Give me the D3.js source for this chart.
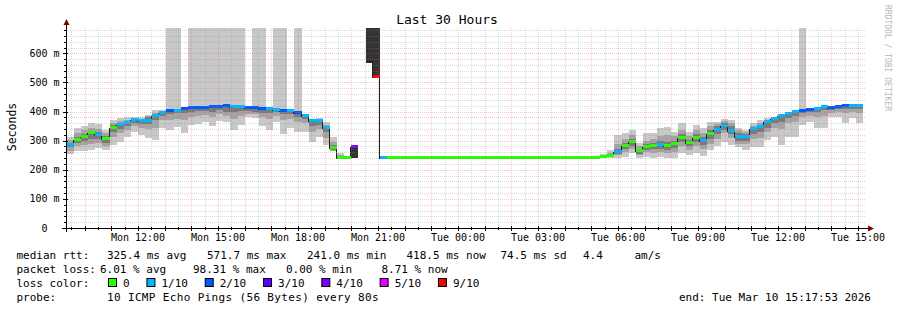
<!DOCTYPE html>
<html>
<head>
<meta charset="utf-8">
<script src="https://cdn.jsdelivr.net/npm/d3@7"></script>
<style>
  body { margin: 0; background: #fff; }
  svg { display: block; }
  text { font-family: "DejaVu Sans Mono", monospace; white-space: pre; fill: #000; }
</style>
</head>
<body>
<svg id="chart" width="897" height="310"></svg>
<script>
// graph window (rrd steps of 960 s)
var startTime = new Date(Date.UTC(2026, 2, 9, 9, 17, 53));
var endTime = new Date(Date.UTC(2026, 2, 10, 15, 17, 53));
var firstStep = new Date(Date.UTC(2026, 2, 9, 9, 20, 0));
var stepSec = 960;

// median rtt per step, in ms
var median = [
  285.6, 302.7, 313, 325.7, 320, 305, 345, 354, 360, 371,
  368, 368, 386, 396, 402, 403, 409, 411, 413.5, 413.5,
  416, 417, 418, 415, 415, 413.5, 411, 409, 408, 407,
  402, 402, 396, 386, 369, 369, 345, 275, 242, 242,
  278, null, 573, 518, 242, 242, 242, 242, 242, 242,
  242, 242, 242, 242, 242, 242, 242, 242, 242, 242,
  242, 242, 242, 242, 242, 242, 242, 242, 242, 242,
  242, 242, 242, 242, 242, 243, 248, 261.6, 283, 296,
  263, 278, 282, 285.6, 280, 289, 308.5, 291, 310.6, 298,
  322, 338, 350, 334.6, 313, 313, 339, 348, 363, 375,
  384, 392, 399, 403, 405.6, 410, 415, 413.6, 417, 419,
  419, 419
];

// lost pings per step (out of 10)
var loss = [
  1, 0, 0, 0, 1, 0, 0, 1, 1, 1,
  1, 1, 1, 1, 2, 1, 2, 2, 2, 2,
  2, 2, 2, 1, 1, 2, 2, 2, 1, 1,
  2, 1, 2, 1, 1, 1, 1, 0, 0, 0,
  4, null, 10, 9, 1, 0, 0, 0, 0, 0,
  0, 0, 0, 0, 0, 0, 0, 0, 0, 0,
  0, 0, 0, 0, 0, 0, 0, 0, 0, 0,
  0, 0, 0, 0, 0, 0, 0, 1, 0, 0,
  0, 0, 0, 1, 0, 0, 0, 0, 0, 1,
  0, 1, 1, 1, 1, 1, 1, 1, 1, 1,
  1, 1, 1, 2, 2, 1, 1, 2, 2, 2,
  1, 1
];

// smoke: outer spread (lightest)
var minV = [
  254, 263, 263, 268, 274, 268, 286, 297, 314, 331,
  320, 309, 302, 343, 337, 348, 328, 354, 356, 365,
  352, 368, 363, 337, 354, 382, 379, 352, 337, 365,
  324, 343, 329, 331, 295, 314, 286, 263, 242, 242,
  242, null, 566, 514, null, null, null, null, null, null,
  null, null, null, null, null, null, null, null, null, null,
  null, null, null, null, null, null, null, null, null, null,
  null, null, null, null, null, 242, 242, 240, 245, 257,
  240, 245, 240, 245, 240, 240, 257, 251, 257, 249,
  268, 280, 297, 286, 279, 268, 279, 279, 302, 314,
  286, 314, 314, 354, 365, 343, 343, 383, 380, 360,
  377, 360
];
var maxV = [
  311, 343, 352, 360, 356, 337, 371, 377, 383, 383,
  380, 388, 405, 405, 700, 700, 412, 700, 700, 700,
  700, 700, 700, 700, 700, 416, 700, 700, 412, 700,
  700, 408, 700, 392, 372, 377, 365, 314, 257, 248,
  278, null, 700, 700, null, null, null, null, null, null,
  null, null, null, null, null, null, null, null, null, null,
  null, null, null, null, null, null, null, null, null, null,
  null, null, null, null, null, 253, 268, 320, 326, 337,
  291, 326, 326, 343, 348, 331, 360, 331, 354, 345,
  365, 365, 375, 371, 344, 337, 361, 371, 378, 383,
  388, 394, 400, 700, 407, 411, 416, 415, 418, 420,
  420, 420
];
// smoke: middle spread
var q1 = [
  266, 280, 285, 290, 292, 282, 312, 325, 335, 350,
  345, 340, 345, 370, 372, 375, 370, 380, 385, 388,
  380, 390, 385, 375, 385, 390, 390, 380, 375, 385,
  370, 375, 365, 360, 330, 340, 310, 265, 242, 242,
  null, null, null, null, null, null, null, null, null, null,
  null, null, null, null, null, null, null, null, null, null,
  null, null, null, null, null, null, null, null, null, null,
  null, null, null, null, null, 242, 244, 250, 260, 272,
  250, 260, 258, 262, 258, 260, 280, 268, 280, 270,
  290, 305, 325, 310, 290, 288, 305, 310, 330, 345,
  340, 360, 365, 380, 385, 380, 385, 395, 400, 395,
  400, 395
];
var q3 = [
  302, 325, 335, 345, 340, 325, 360, 366, 372, 378,
  375, 384, 396, 402, 410, 410, 411, 414, 416, 416,
  418, 419, 420, 418, 418, 415, 414, 412, 411, 410,
  406, 405, 400, 390, 371, 373, 355, 295, 250, 246,
  null, null, null, null, null, null, null, null, null, null,
  null, null, null, null, null, null, null, null, null, null,
  null, null, null, null, null, null, null, null, null, null,
  null, null, null, null, null, 249, 258, 290, 305, 318,
  280, 300, 305, 315, 318, 315, 335, 315, 335, 325,
  350, 358, 366, 360, 335, 330, 352, 360, 372, 380,
  386, 393, 400, 405, 407, 411, 416, 415, 418, 420,
  420, 420
];
// smoke: close to the median (darkest)
var d1 = [
  277, 292, 300, 305, 305, 292, 330, 340, 350, 362,
  358, 356, 370, 385, 392, 394, 395, 400, 403, 403,
  398, 405, 400, 400, 402, 402, 400, 395, 395, 398,
  390, 390, 383, 375, 350, 355, 330, 268, 242, 242,
  null, null, null, null, null, null, null, null, null, null,
  null, null, null, null, null, null, null, null, null, null,
  null, null, null, null, null, null, null, null, null, null,
  null, null, null, null, null, 242, 246, 255, 272, 283,
  255, 268, 270, 272, 268, 275, 295, 280, 295, 285,
  305, 322, 338, 322, 300, 300, 322, 330, 345, 360,
  365, 378, 385, 395, 398, 398, 405, 405, 410, 410,
  410, 410
];
var d2 = [
  292, 312, 322, 334, 330, 315, 353, 360, 366, 376,
  373, 382, 392, 400, 406, 407, 410, 413, 415, 415,
  417, 418, 419, 417, 417, 414, 413, 411, 410, 409,
  404, 404, 398, 389, 370, 371, 350, 285, 246, 244,
  null, null, null, null, null, null, null, null, null, null,
  null, null, null, null, null, null, null, null, null, null,
  null, null, null, null, null, null, null, null, null, null,
  null, null, null, null, null, 246, 252, 270, 292, 305,
  272, 290, 292, 298, 295, 300, 322, 302, 322, 312,
  335, 350, 360, 350, 325, 322, 348, 355, 368, 378,
  385, 392, 399, 404, 406, 410, 415, 414, 417, 419,
  419, 419
];

// loss colour legend
var lossLevels = [0, 1, 2, 3, 4, 5, 9];
var lossLabels = ["0", "1/10", "2/10", "3/10", "4/10", "5/10", "9/10"];
var lossColors = ["#26ff00", "#00b8ff", "#0059ff", "#5e00ff", "#7e00ff", "#dd00ff", "#ff0000"];

var yTicks = [0, 100, 200, 300, 400, 500, 600];

var svg = d3.select("#chart");
var X0 = 66, X1 = 866, YB = 228, YT = 28;

var x = d3.scaleUtc().domain([startTime, endTime]).range([X0, X1]);
var y = d3.scaleLinear().domain([0, 687]).range([YB, YT]);

function stepStart(i) {
  return new Date(firstStep.getTime() + i * stepSec * 1000);
}
function lossColor(l) {
  if (l == null || l >= 10) return null;
  var c = null;
  lossLevels.forEach(function(lv, k) { if (l >= lv) c = lossColors[k]; });
  return c;
}

svg.append("rect").attr("width", 897).attr("height", 310).attr("fill", "#fff");

svg.append("clipPath").attr("id", "plot")
  .append("rect").attr("x", X0).attr("y", YT).attr("width", X1 - X0).attr("height", YB - YT);
var plot = svg.append("g").attr("clip-path", "url(#plot)").attr("shape-rendering", "crispEdges");

var steps = d3.range(median.length);

// smoke bands
var layers = [
  { lo: minV, hi: maxV, fill: "#c8c8c8" },
  { lo: q1, hi: q3, fill: "#a4a4a4" },
  { lo: d1, hi: d2, fill: "#7a7a7a" }
];
layers.forEach(function(L) {
  plot.append("g").selectAll("rect")
    .data(steps.filter(function(i) { return L.lo[i] != null; }))
    .join("rect")
    .attr("x", function(i) { return Math.round(x(stepStart(i))); })
    .attr("width", function(i) { return Math.round(x(stepStart(i + 1))) - Math.round(x(stepStart(i))); })
    .attr("y", function(i) { return y(L.hi[i]); })
    .attr("height", function(i) { return y(L.lo[i]) - y(L.hi[i]); })
    .attr("fill", function(i) { return loss[i] >= 4 ? "#333333" : L.fill; });
});

// median as a stepped line
var pts = [];
median.forEach(function(m, i) {
  if (m == null) { pts.push(null); return; }
  pts.push({ t: stepStart(i), v: m });
  pts.push({ t: stepStart(i + 1), v: m });
});
var line = d3.line()
  .defined(function(d) { return d != null; })
  .x(function(d) { return Math.round(x(d.t)) - 0.5; })
  .y(function(d) { return Math.round(y(d.v)) + 0.5; });
plot.append("path").datum(pts)
  .attr("d", line).attr("fill", "none").attr("stroke", "#202020").attr("stroke-width", 1);

// loss coloured median marks
plot.append("g").selectAll("rect")
  .data(steps.filter(function(i) { return median[i] != null && lossColor(loss[i]); }))
  .join("rect")
  .attr("x", function(i) { return Math.round(x(stepStart(i))); })
  .attr("width", function(i) { return Math.round(x(stepStart(i + 1))) - Math.round(x(stepStart(i))); })
  .attr("y", function(i) { return Math.round(y(median[i])) - 2; })
  .attr("height", 3)
  .attr("fill", function(i) { return lossColor(loss[i]); });

// grid on top of the data
var grid = svg.append("g").attr("shape-rendering", "crispEdges");
var minorY = d3.range(20, 687, 20).filter(function(v) { return v % 100 != 0; });
var majorY = d3.range(100, 687, 100);
var minorX = x.ticks(d3.utcMinute.every(30)).filter(function(d) { return d.getUTCMinutes() != 0; });
var majorX = x.ticks(d3.utcHour.every(1));

function hLines(vals, color) {
  grid.append("g").selectAll("line").data(vals).join("line")
    .attr("x1", X0).attr("x2", X1)
    .attr("y1", function(v) { return Math.round(y(v)) + 0.5; })
    .attr("y2", function(v) { return Math.round(y(v)) + 0.5; })
    .attr("stroke", color).attr("stroke-dasharray", "1,1");
}
function vLines(vals, color) {
  grid.append("g").selectAll("line").data(vals).join("line")
    .attr("y1", YT).attr("y2", YB)
    .attr("x1", function(d) { return Math.round(x(d)) + 0.5; })
    .attr("x2", function(d) { return Math.round(x(d)) + 0.5; })
    .attr("stroke", color).attr("stroke-dasharray", "1,1");
}
hLines(minorY, "rgba(140,140,140,0.32)");
vLines(minorX, "rgba(140,140,140,0.32)");
hLines(majorY, "rgba(255,70,70,0.32)");
vLines(majorX, "rgba(255,70,70,0.32)");

// axes
var ax = svg.append("g").attr("shape-rendering", "crispEdges");
ax.append("line").attr("x1", X0 - 4).attr("x2", X1 + 2).attr("y1", YB + 0.5).attr("y2", YB + 0.5).attr("stroke", "#000");
ax.append("line").attr("x1", X0 + 0.5).attr("x2", X0 + 0.5).attr("y1", YB + 4).attr("y2", YT - 4).attr("stroke", "#000");
ax.selectAll(".xt").data(majorX).join("line")
  .attr("x1", function(d) { return Math.round(x(d)) + 0.5; })
  .attr("x2", function(d) { return Math.round(x(d)) + 0.5; })
  .attr("y1", YB - 2).attr("y2", YB + 3).attr("stroke", "#000");
ax.selectAll(".xm").data(minorX).join("line")
  .attr("x1", function(d) { return Math.round(x(d)) + 0.5; })
  .attr("x2", function(d) { return Math.round(x(d)) + 0.5; })
  .attr("y1", YB - 1).attr("y2", YB + 2).attr("stroke", "#000");
ax.selectAll(".yt").data(yTicks).join("line")
  .attr("y1", function(v) { return Math.round(y(v)) + 0.5; })
  .attr("y2", function(v) { return Math.round(y(v)) + 0.5; })
  .attr("x1", X0 - 3).attr("x2", X0 + 2).attr("stroke", "#000");
ax.selectAll(".ym").data(minorY).join("line")
  .attr("y1", function(v) { return Math.round(y(v)) + 0.5; })
  .attr("y2", function(v) { return Math.round(y(v)) + 0.5; })
  .attr("x1", X0 - 2).attr("x2", X0 + 1).attr("stroke", "#000");

// arrows
svg.append("path").attr("d", "M" + (X0 - 2.5) + "," + (YT - 3) + "L" + (X0 + 3.5) + "," + (YT - 3) + "L" + (X0 + 0.5) + "," + (YT - 9) + "Z").attr("fill", "#800000");
svg.append("path").attr("d", "M" + (X1 + 2) + "," + (YB - 2.5) + "L" + (X1 + 2) + "," + (YB + 3.5) + "L" + (X1 + 8) + "," + (YB + 0.5) + "Z").attr("fill", "#800000");

// tick labels
svg.append("g").selectAll("text").data(yTicks).join("text")
  .attr("x", 59.5).attr("y", function(v) { return y(v) + 3.5; })
  .attr("text-anchor", "end").attr("font-size", 10)
  .text(function(v) { return v == 0 ? "0  " : v + " m"; });

var fmt = d3.utcFormat("%a %H:%M");
svg.append("g").selectAll("text").data(x.ticks(d3.utcHour.every(3))).join("text")
  .attr("x", function(d) { return x(d); }).attr("y", 241)
  .attr("text-anchor", "middle").attr("font-size", 10)
  .text(function(d) { return fmt(d); });

// titles
svg.append("text").attr("x", 447).attr("y", 24).attr("text-anchor", "middle").attr("font-size", 13).text("Last 30 Hours");
svg.append("text").attr("transform", "translate(15.5,127) rotate(-90)").attr("text-anchor", "middle").attr("font-size", 11.5).text("Seconds");
svg.append("text").attr("transform", "translate(884.5,5) rotate(90)").attr("font-size", 8).style("fill", "#b8b8b8").text("RRDTOOL / TOBI OETIKER");

// legend
var lg = svg.append("g").attr("font-size", 11);
function lt(xp, yp, s) { return lg.append("text").attr("x", xp).attr("y", yp).text(s); }
lt(16.5, 258.5, "median rtt:");
lt(107, 258.5, "325.4 ms avg");
lt(207, 258.5, "571.7 ms max");
lt(307, 258.5, "241.0 ms min");
lt(406.5, 258.5, "418.5 ms now");
lt(500.5, 258.5, "74.5 ms sd");
lt(583, 258.5, "4.4");
lt(634.5, 258.5, "am/s");
lt(16.5, 272.5, "packet loss:");
lt(100, 272.5, "6.01 % avg");
lt(193, 272.5, "98.31 % max");
lt(286, 272.5, "0.00 % min");
lt(381.5, 272.5, "8.71 % now");
lt(16.5, 286.5, "loss color:");
var bx = 108.5;
lossLabels.forEach(function(lab, k) {
  lg.append("rect").attr("x", bx).attr("y", 278.5).attr("width", 8).attr("height", 8)
    .attr("fill", lossColors[k]).attr("stroke", "#000").attr("stroke-width", 1);
  var t = lg.append("text").attr("x", bx + 14.5).attr("y", 286.5).text(lab);
  bx = bx + 14.5 + t.node().getComputedTextLength() + 17.3;
});
lt(16.5, 300.5, "probe:");
lt(107, 300.5, "10 ICMP Echo Pings (56 Bytes) every 80s").attr("letter-spacing", 0.35);
lg.append("text").attr("x", 871).attr("y", 300.5).attr("text-anchor", "end").text("end: Tue Mar 10 15:17:53 2026");
</script>
</body>
</html>
